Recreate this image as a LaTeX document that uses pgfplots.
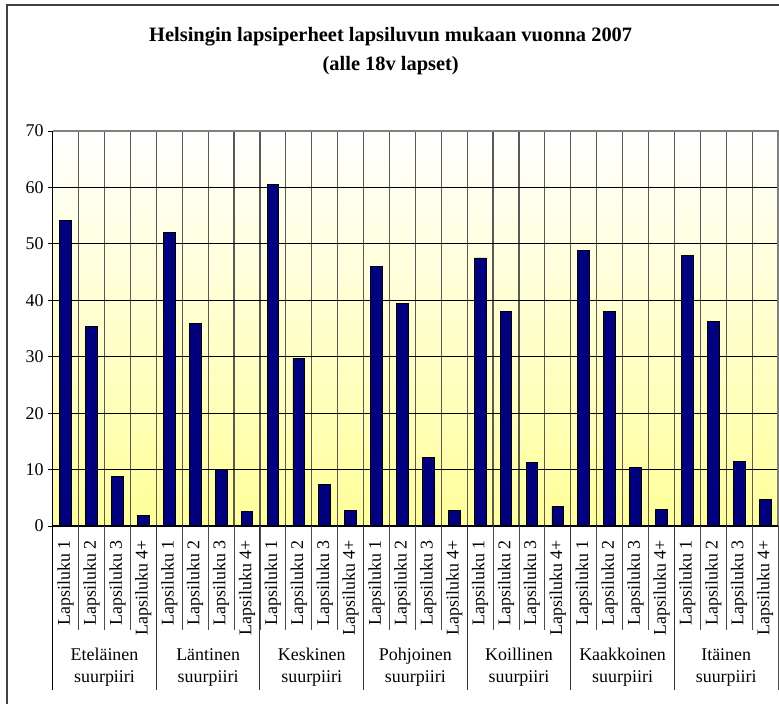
\documentclass[border=0pt]{standalone}
\usepackage{pgfplots}
\pgfplotsset{compat=1.18}
\usepackage{fontspec}
\setmainfont{Liberation Serif}
\definecolor{barnavy}{RGB}{0,0,128}
\definecolor{paleyellow}{RGB}{255,255,153}
\newcommand\lbl{\fontsize{18}{21.5}\selectfont}

\begin{document}
\begin{tikzpicture}[x=1bp,y=1bp]
\useasboundingbox (-52.7,-178) rectangle (726.3,526);
% outer chart border (right and bottom are cut off)
\draw[black!75, line width=1.4bp] (-45.7,-200) -- (-45.7,521) -- (760,521);
\begin{axis}[
    at={(0,0)}, anchor=south west,
    scale only axis,
    width=725.3bp, height=395bp,
    xmin=0.5, xmax=28.5,
    ymin=0, ymax=70,
    ytick={0,10,...,70},
    xtick={1,...,28},
    xticklabels={Lapsiluku 1,Lapsiluku 2,Lapsiluku 3,Lapsiluku 4+,
                 Lapsiluku 1,Lapsiluku 2,Lapsiluku 3,Lapsiluku 4+,
                 Lapsiluku 1,Lapsiluku 2,Lapsiluku 3,Lapsiluku 4+,
                 Lapsiluku 1,Lapsiluku 2,Lapsiluku 3,Lapsiluku 4+,
                 Lapsiluku 1,Lapsiluku 2,Lapsiluku 3,Lapsiluku 4+,
                 Lapsiluku 1,Lapsiluku 2,Lapsiluku 3,Lapsiluku 4+,
                 Lapsiluku 1,Lapsiluku 2,Lapsiluku 3,Lapsiluku 4+},
    minor xtick={0.5,1.5,...,28.5},
    xminorgrids, ymajorgrids,
    minor grid style={black!65, line width=1.2bp},
    major grid style={black, line width=0.9bp},
    axis line style={draw=none},
    xtick style={draw=none},
    ytick style={black, line width=0.9bp},
    tick align=outside, major tick length=5bp,
    yticklabel style={font=\lbl, inner sep=0pt, xshift=-4bp},
    xticklabel style={font=\lbl, rotate=90, anchor=east, inner sep=0pt},
    xticklabel shift=9bp,
    /pgf/number format/assume math mode=true,
    axis background/.style={top color=white, bottom color=paleyellow},
    ybar, bar width=11.7bp,
]
\addplot[fill=barnavy, draw=black, line width=0.8bp] coordinates {
(1,54.2) (2,35.4) (3,8.8) (4,1.8)
(5,52.1) (6,35.9) (7,10.0) (8,2.5)
(9,60.6) (10,29.7) (11,7.4) (12,2.7)
(13,46.0) (14,39.5) (15,12.2) (16,2.7)
(17,47.5) (18,38.1) (19,11.3) (20,3.5)
(21,48.9) (22,38.1) (23,10.3) (24,3.0)
(25,48.0) (26,36.2) (27,11.5) (28,4.7)};
\end{axis}
% axis frame
\draw[black!50, line width=1.2bp] (0,395) -- (725.3,395) -- (725.3,0);
\draw[black, line width=1bp] (0,0) -- (725.3,0);
\draw[black, line width=1bp] (0,395) -- (0,-164);
\draw[black!70, line width=1bp] (725.3,0) -- (725.3,-164);
% category separators below the axis
\foreach \i in {1,...,27} \draw[black!70, line width=0.8bp] (\i*25.904,0) -- (\i*25.904,-104);
\foreach \i in {4,8,...,24} \draw[black!80, line width=0.9bp] (\i*25.904,0) -- (\i*25.904,-164);
% group labels
\foreach \k/\name in {0/Eteläinen,1/Läntinen,2/Keskinen,3/Pohjoinen,4/Koillinen,5/Kaakkoinen,6/Itäinen}
  \node[align=center, font=\lbl, inner sep=0pt] at ({(4*\k+2)*25.904},-141.3) {\name\\suurpiiri};
% title
\node[align=center, font=\bfseries\fontsize{20.5}{28.3}\selectfont] at (338,475)
  {Helsingin lapsiperheet lapsiluvun mukaan vuonna 2007\\(alle 18v lapset)};
\end{tikzpicture}
\end{document}
